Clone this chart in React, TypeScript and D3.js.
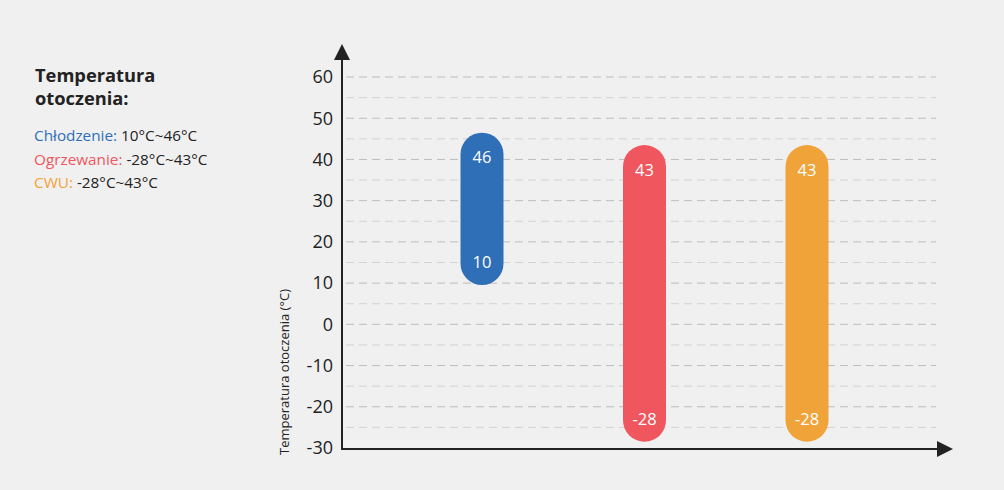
import React from "react";
import * as d3 from "d3";

const categories = ["Chłodzenie", "Ogrzewanie", "CWU"];
const minValues = [10, -28, -28];
const maxValues = [46, 43, 43];
const colors = ["#2e6fb7", "#ef565e", "#f0a338"];
const yTicks = [60, 50, 40, 30, 20, 10, 0, -10, -20, -30];
const gridValues = [60, 55, 50, 45, 40, 35, 30, 25, 20, 15, 10, 5, 0, -5, -10, -15, -20, -25];
const legendTitle = ["Temperatura", "otoczenia:"];
const legendRanges = ["10°C~46°C", "-28°C~43°C", "-28°C~43°C"];
const yTitle = "Temperatura otoczenia (°C)";

const W = 1004;
const H = 490;
const FONT = "'Open Sans', Lato, sans-serif";

export default function App() {
  const y = d3.scaleLinear().domain([-30, 60]).range([448, 77]);
  const x = d3.scalePoint<string>().domain(categories).range([482, 807]);
  const axisX = 342;
  const axisY = 449;
  const right = 936;
  const barW = 43;

  return (
    <svg width={W} height={H} style={{ position: "absolute", left: 0, top: 0, background: "#f1f0f0" }}>
      <rect x={0} y={0} width={W} height={H} fill="#f1f0f0" />
      {/* grid */}
      {gridValues.map((v) => (
        <line
          key={v}
          x1={axisX + 4}
          x2={right}
          y1={y(v)}
          y2={y(v)}
          stroke={v % 10 === 0 ? "#bdbdbd" : "#d2d2d2"}
          strokeWidth={1}
          strokeDasharray="8,5"
        />
      ))}
      {/* axes */}
      <line x1={axisX} x2={axisX} y1={58} y2={axisY} stroke="#222" strokeWidth={2} />
      <line x1={axisX - 1} x2={right + 2} y1={axisY} y2={axisY} stroke="#222" strokeWidth={2} />
      <path d={`M${axisX},44 L${axisX - 8},60 L${axisX + 8},60 Z`} fill="#222" />
      <path d={`M953,${axisY} L937,${axisY - 8} L937,${axisY + 8} Z`} fill="#222" />
      {/* y ticks */}
      {yTicks.map((v) => (
        <text
          key={v}
          x={333}
          y={y(v)}
          dy="0.35em"
          textAnchor="end"
          fontFamily={FONT}
          fontSize={18}
          fill="#222"
        >
          {v}
        </text>
      ))}
      <text
        transform={`translate(289,${372}) rotate(-90)`}
        textAnchor="middle"
        fontFamily={FONT}
        fontSize={13}
        fill="#222"
      >
        {yTitle}
      </text>
      {/* bars */}
      {categories.map((c, i) => {
        const top = y(maxValues[i]);
        const bot = y(minValues[i]);
        const cx = x(c) as number;
        return (
          <g key={c}>
            <rect
              x={cx - barW / 2}
              y={top - 2}
              width={barW}
              height={bot - top + 4}
              rx={barW / 2}
              ry={barW / 2}
              fill={colors[i]}
            />
            <text x={cx} y={top + 23} dy="0.35em" textAnchor="middle" fontFamily={FONT} fontSize={16.5} fill="#fff">
              {maxValues[i]}
            </text>
            <text x={cx} y={bot - 21} dy="0.35em" textAnchor="middle" fontFamily={FONT} fontSize={16.5} fill="#fff">
              {minValues[i]}
            </text>
          </g>
        );
      })}
      {/* legend */}
      {legendTitle.map((t, i) => (
        <text key={t} x={35} y={82 + i * 23} fontFamily={FONT} fontSize={18.3} fontWeight={700} fill="#222">
          {t}
        </text>
      ))}
      {categories.map((c, i) => (
        <text key={c} x={34} y={141 + i * 23.5} fontFamily={FONT} fontSize={15.3} fill="#222">
          <tspan fill={colors[i]}>{c}:</tspan>
          <tspan> {legendRanges[i]}</tspan>
        </text>
      ))}
    </svg>
  );
}
